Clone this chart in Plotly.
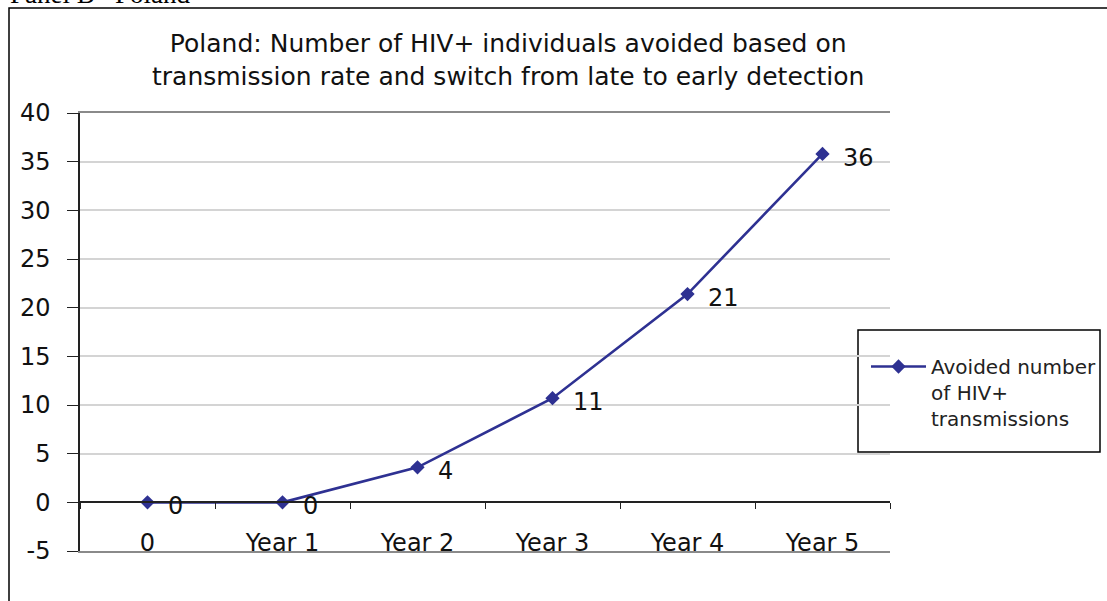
import plotly.graph_objects as go

categories = ["0", "Year 1", "Year 2", "Year 3", "Year 4", "Year 5"]
avoided = [0, 0, 3.6, 10.7, 21.4, 35.8]
labels = ["0", "0", "4", "11", "21", "36"]
series_name = "Avoided number<br>of HIV+<br>transmissions"
y_ticks = [-5, 0, 5, 10, 15, 20, 25, 30, 35, 40]
y_tick_labels = ["-5", "0", "5", "10", "15", "20", "25", "30", "35", "40"]

xpos = list(range(len(categories)))
boundaries = [i - 0.5 for i in range(len(categories) + 1)]

NAVY = "#2E3192"
FONT = "DejaVu Sans"

# plot area in pixels: left 80, right 890, top 113, bottom 551
def px(xp):
    return (xp - 80) / 810
def py(yp):
    return (551 - yp) / 438

fig = go.Figure()
fig.add_trace(go.Scatter(
    x=xpos, y=avoided, mode="lines+markers",
    name=series_name,
    line=dict(color=NAVY, width=2.6),
    marker=dict(symbol="diamond", size=11, color=NAVY),
    cliponaxis=False,
))
# invisible helper traces to activate the y=0 boundary axis and the label axis
fig.add_trace(go.Scatter(x=boundaries, y=[0]*len(boundaries), xaxis="x2",
                         mode="lines", line=dict(color="rgba(0,0,0,0)"),
                         showlegend=False, hoverinfo="skip"))
fig.add_trace(go.Scatter(x=xpos, y=[0]*len(xpos), xaxis="x3",
                         mode="lines", line=dict(color="rgba(0,0,0,0)"),
                         showlegend=False, hoverinfo="skip"))

annotations = [
    dict(x=xv, y=yv, xref="x", yref="y", text=lab, showarrow=False,
         xanchor="left", yanchor="middle", xshift=18, yshift=-4,
         font=dict(family=FONT, size=24, color="#111"))
    for xv, yv, lab in zip(xpos, avoided, labels)
]
annotations += [
    dict(text="Poland: Number of HIV+ individuals avoided based on<br>transmission rate and switch from late to early detection",
         xref="paper", yref="paper", x=px(508), y=py(60),
         xanchor="center", yanchor="middle", showarrow=False,
         font=dict(family=FONT, size=25, color="#111")),
    dict(text="Panel B   Poland", xref="paper", yref="paper",
         x=px(8), y=py(11), xanchor="left", yanchor="bottom",
         showarrow=False, font=dict(family="Liberation Serif", size=27, color="black")),
]

fig.update_layout(
    width=1107, height=601,
    margin=dict(l=80, r=217, t=113, b=50, autoexpand=False),
    paper_bgcolor="white", plot_bgcolor="white",
    font=dict(family=FONT, color="#111"),
    showlegend=True,
    legend=dict(x=px(866), y=py(347), xanchor="left", yanchor="top",
                borderwidth=0, bgcolor="rgba(0,0,0,0)",
                font=dict(family=FONT, size=20, color="#222"),
                itemwidth=55, valign="top", tracegroupgap=0),
    xaxis=dict(range=[-0.5, 5.5], showticklabels=False,
               showgrid=False, zeroline=False, showline=True, linecolor="#8a8a8a",
               linewidth=2, mirror=True, ticks=""),
    xaxis2=dict(range=[-0.5, 5.5], overlaying="x", anchor="free", position=5/45,
                tickmode="array", tickvals=boundaries, showticklabels=False,
                showgrid=False, zeroline=False, showline=True, linecolor="#222",
                linewidth=1.5, ticks="outside", ticklen=6, tickcolor="#222"),
    xaxis3=dict(range=[-0.5, 5.5], overlaying="x", anchor="free", position=py(526),
                tickmode="array", tickvals=xpos, ticktext=categories,
                showgrid=False, zeroline=False, showline=False, ticks="",
                tickfont=dict(family=FONT, size=24, color="#111")),
    yaxis=dict(range=[-5, 40], tickmode="array", tickvals=y_ticks, ticktext=y_tick_labels,
               showgrid=True, gridcolor="#d4d4d4", gridwidth=1.5,
               zeroline=False, showline=True, linecolor="#222", linewidth=1.5,
               ticks="outside", ticklen=11, tickcolor="#222",
               ticklabelstandoff=12,
               tickfont=dict(family=FONT, size=24, color="#111")),
    annotations=annotations,
    shapes=[
        dict(type="rect", xref="paper", yref="paper",
             x0=px(9), x1=1.4, y0=-0.3, y1=py(8),
             line=dict(color="black", width=1.5), layer="below"),
        dict(type="rect", xref="paper", yref="paper",
             x0=px(858), x1=px(1100), y0=py(452), y1=py(330),
             line=dict(color="black", width=1.5), fillcolor="white", layer="below"),
    ],
)

fig.write_html("out.html", config={"displayModeBar": False},
               post_script="document.body.style.margin='0';")
